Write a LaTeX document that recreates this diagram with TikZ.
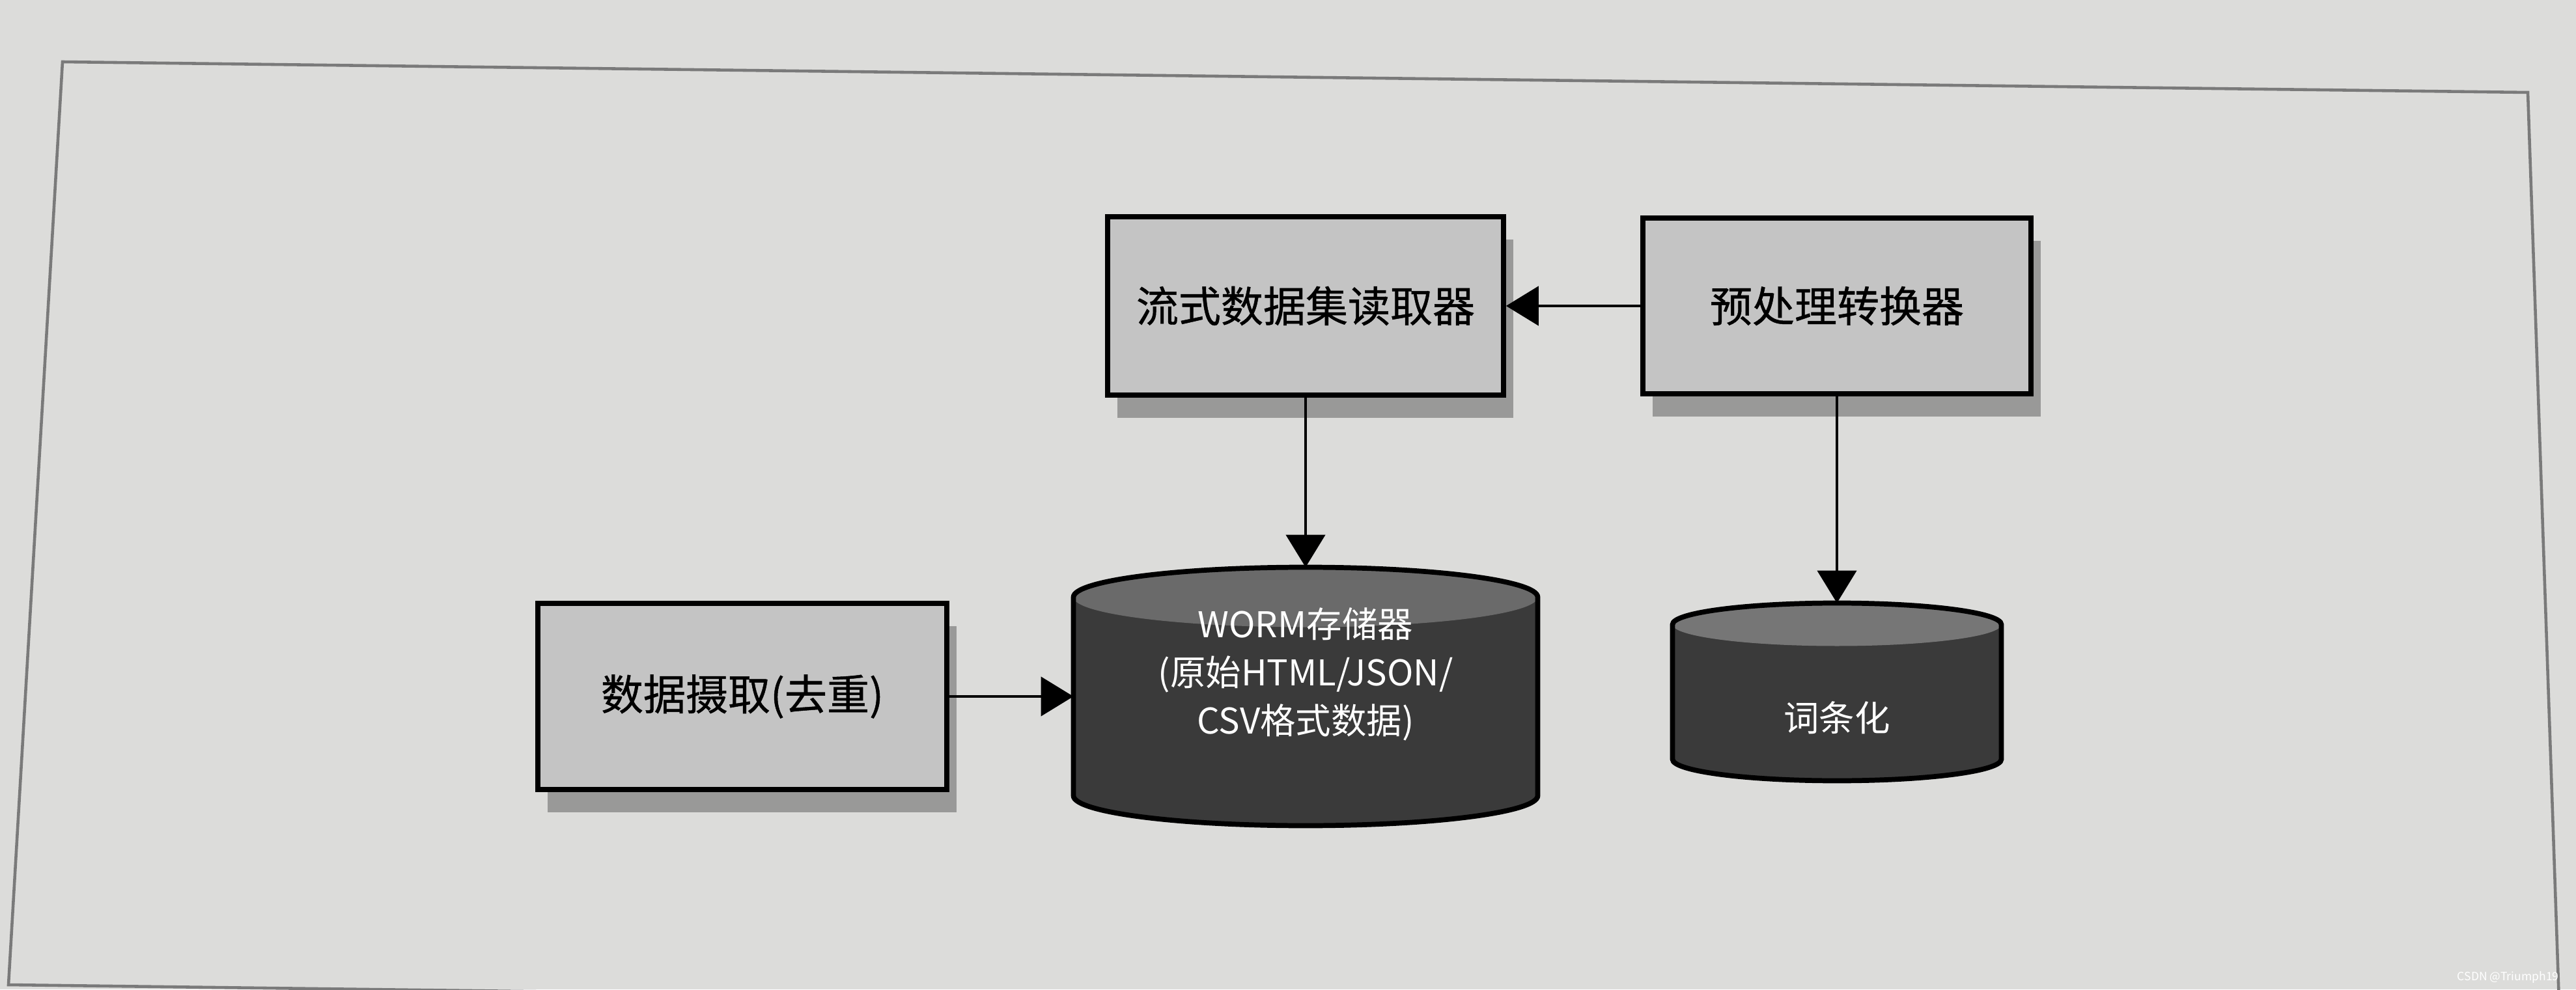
\documentclass[tikz,border=0pt]{standalone}
\usepackage{fontspec}
\setmainfont{Noto Sans CJK SC}
\newfontfamily\boxfont{Noto Sans CJK SC}[FakeBold=0.7]
\usetikzlibrary{positioning,arrows.meta,calc,shadows}
\definecolor{pagegray}{HTML}{DCDCDA}
\definecolor{framegray}{HTML}{7A7A7A}
\definecolor{boxgray}{HTML}{C4C4C4}
\definecolor{cylbody}{HTML}{3A3A3A}
\definecolor{wormtop}{HTML}{6A6A6A}
\definecolor{tokentop}{HTML}{767676}

% storage cylinder drawn round an empty node: #1 node, #2 cap radius, #3 cap colour
\newcommand{\dbcyl}[3]{%
  \fill[cylbody] let \p1=($(#1.east)-(#1.center)$) in
    ([yshift=-#2]#1.north west) -- ([yshift=#2]#1.south west)
    arc[start angle=180, end angle=360, x radius=\x1, y radius=#2]
    -- ([yshift=-#2]#1.north east)
    arc[start angle=0, end angle=180, x radius=\x1, y radius=#2] -- cycle;
  \fill[#3] let \p1=($(#1.east)-(#1.center)$) in
    ([yshift=-#2]#1.north) ellipse[x radius=\x1, y radius=#2];
  \draw[line width=2.2pt] let \p1=($(#1.east)-(#1.center)$) in
    ([yshift=-#2]#1.north west) -- ([yshift=#2]#1.south west)
    arc[start angle=180, end angle=360, x radius=\x1, y radius=#2]
    -- ([yshift=-#2]#1.north east)
    arc[start angle=0, end angle=180, x radius=\x1, y radius=#2] -- cycle;
}

\tikzset{
  procbox/.style={draw, line width=2.2pt, fill=boxgray, font=\boxfont\fontsize{18.5}{22}\selectfont,
    drop shadow={shadow xshift=0.15cm, shadow yshift=-0.35cm, fill=black, opacity=0.3}},
  cylspace/.style={inner sep=0pt, outer sep=0pt},
  cyltext/.style={text=white, align=center, font=\fontsize{15.5}{21}\selectfont},
  flow/.style={->, line width=1.4pt}
}

\begin{document}
\begin{tikzpicture}[>={Triangle[width=0.6cm,length=0.5cm]}]
  \useasboundingbox (0,0) rectangle (39.56,15.2);
  \fill[pagegray] (0,0) rectangle (39.56,15.2);
  \begin{scope}
    \clip (0,0) rectangle (39.56,15.2);
    \draw[framegray, line width=1.3pt] (39.56,-0.43) -- (0.13,0.07) -- (0.96,14.25) -- (38.82,13.78) -- (39.3,-0.2);
  \end{scope}

  \node[procbox, minimum width=6.08cm, minimum height=2.74cm] (reader) at (20.05,10.5) {流式数据集读取器};
  \node[procbox, minimum width=5.96cm, minimum height=2.7cm] (preproc) at (28.21,10.5) {预处理转换器};
  \node[procbox, minimum width=6.28cm, minimum height=2.86cm] (ingest) at (11.4,4.5) {数据摄取(去重)};
  \node[cylspace, minimum width=7.13cm, minimum height=3.97cm] (worm) at (20.05,4.5) {};
  \node[cylspace, minimum width=5.05cm, minimum height=2.73cm] (token) at (28.21,4.57) {};

  \dbcyl{worm}{0.46cm}{wormtop}
  \dbcyl{token}{0.33cm}{tokentop}
  \node[cyltext] (wormlabel) at ([yshift=0.34cm]worm.center) {WORM存储器\\(原始HTML/JSON/\\CSV格式数据)};
  \node[cyltext] (tokenlabel) at ([yshift=-0.4cm]token.center) {词条化};

  \draw[flow] (preproc) -- (reader);
  \draw[flow] (reader) -- (worm);
  \draw[flow] (preproc) -- (token);
  \draw[flow] (ingest) -- (worm);

  \node[text=white, font=\fontsize{5}{6}\selectfont, anchor=east] (mark) at (39.42,0.18) {CSDN @Triumph19};
\end{tikzpicture}
\end{document}
